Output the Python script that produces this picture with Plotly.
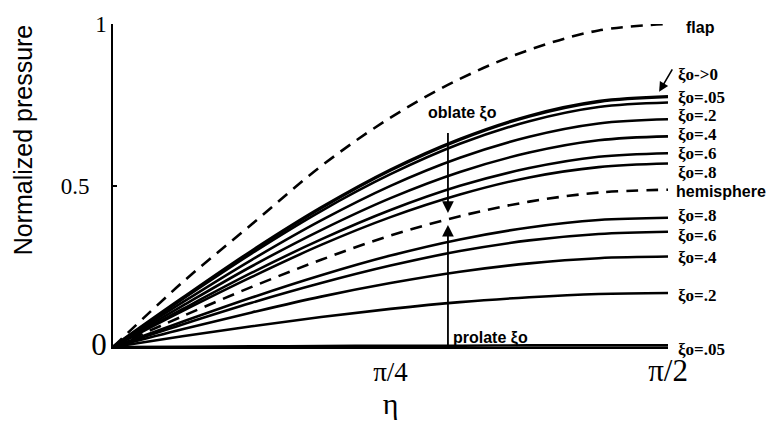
import numpy as np
import plotly.graph_objects as go

# Polar angle eta sampled at multiples of pi/16
eta = [k * np.pi / 16 for k in range(9)]

flap = [0.0, 0.20, 0.38, 0.56, 0.71, 0.83, 0.92, 0.98, 1.0]
hemisphere = [0.0, 0.095, 0.186, 0.27, 0.345, 0.405, 0.45, 0.478, 0.487]

oblate_names = ["ξo->0", "ξo=.05", "ξo=.2", "ξo=.4", "ξo=.6", "ξo=.8"]
oblate_vals = [
    [0.0, 0.151, 0.297, 0.431, 0.548, 0.643, 0.715, 0.760, 0.775],
    [0.0, 0.148, 0.290, 0.421, 0.535, 0.629, 0.699, 0.743, 0.757],
    [0.0, 0.138, 0.270, 0.392, 0.499, 0.586, 0.651, 0.692, 0.705],
    [0.0, 0.127, 0.250, 0.362, 0.461, 0.542, 0.602, 0.640, 0.652],
    [0.0, 0.117, 0.230, 0.333, 0.424, 0.499, 0.554, 0.589, 0.600],
    [0.0, 0.111, 0.217, 0.316, 0.402, 0.472, 0.525, 0.557, 0.568],
]

prolate_names = ["ξo=.8", "ξo=.6", "ξo=.4", "ξo=.2", "ξo=.05"]
prolate_vals = [
    [0.0, 0.078, 0.153, 0.222, 0.283, 0.333, 0.370, 0.393, 0.400],
    [0.0, 0.070, 0.137, 0.198, 0.252, 0.297, 0.330, 0.350, 0.357],
    [0.0, 0.055, 0.107, 0.156, 0.198, 0.233, 0.259, 0.275, 0.280],
    [0.0, 0.033, 0.064, 0.093, 0.118, 0.139, 0.154, 0.164, 0.167],
    [0.0, 0.001, 0.002, 0.003, 0.004, 0.004, 0.005, 0.005, 0.005],
]

# label heights at the right-hand edge (stacked, so they don't collide)
oblate_label_y = [0.845, 0.774, 0.717, 0.658, 0.598, 0.539]
prolate_label_y = [0.408, 0.346, 0.277, 0.159, 0.0]

serif = "Liberation Serif"
sans = "Liberation Sans"
black = "#000000"

fig = go.Figure()

def add_line(y, width=2.6, dash=None):
    fig.add_trace(go.Scatter(
        x=eta, y=y, mode="lines", line_shape="spline",
        line=dict(color=black, width=width, dash=dash),
        showlegend=False, hoverinfo="skip", cliponaxis=False,
    ))

add_line(flap, dash="12px,8px")
for i, v in enumerate(oblate_vals):
    add_line(v, width=3.4 if i == 0 else 2.6)
add_line(hemisphere, dash="12px,8px")
for v in prolate_vals:
    add_line(v)

annotations = []

def side_label(text, y, xshift=6, yshift=0, font=None):
    annotations.append(dict(
        x=np.pi / 2, y=y, xref="x", yref="y", text=text, showarrow=False,
        xanchor="left", yanchor="middle", xshift=xshift, yshift=yshift,
        font=font or dict(family=serif, size=17, color=black),
    ))

side_label("<b>flap</b>", 0.99, xshift=16, font=dict(family=sans, size=16, color=black))
side_label("<b>hemisphere</b>", 0.480, xshift=6, font=dict(family=sans, size=16, color=black))
for name, y in zip(oblate_names, oblate_label_y):
    side_label("<b>" + name + "</b>", y, xshift=8)
for name, y in zip(prolate_names, prolate_label_y):
    side_label("<b>" + name + "</b>", y, xshift=8, yshift=-2 if y == 0 else 0)

# pointer from the xi->0 label to its curve
annotations.append(dict(
    x=np.pi / 2 - 0.025, y=0.79, xref="x", yref="y", ax=14, ay=-24,
    showarrow=True, arrowhead=2, arrowsize=1.2, arrowwidth=1.6, arrowcolor=black, text="",
))

eta_arrow = 0.948
annotations.append(dict(
    x=eta_arrow, y=0.415, xref="x", yref="y", axref="x", ayref="y",
    ax=eta_arrow, ay=0.667, text="", showarrow=True,
    arrowhead=2, arrowsize=1.3, arrowwidth=1.8, arrowcolor=black,
))
annotations.append(dict(
    x=eta_arrow, y=0.378, xref="x", yref="y", axref="x", ayref="y",
    ax=eta_arrow, ay=0.0, text="", showarrow=True,
    arrowhead=2, arrowsize=1.3, arrowwidth=1.8, arrowcolor=black,
))
annotations.append(dict(
    x=eta_arrow + 0.04, y=0.723, xref="x", yref="y", text="<b>oblate ξo</b>",
    showarrow=False, xanchor="center", yanchor="middle",
    font=dict(family=sans, size=16, color=black),
))
annotations.append(dict(
    x=eta_arrow + 0.01, y=0.028, xref="x", yref="y", text="<b>prolate ξo</b>",
    showarrow=False, xanchor="left", yanchor="middle",
    font=dict(family=sans, size=16, color=black),
))

# vertical axis title, set above the middle of the axis
annotations.append(dict(
    x=-0.162, y=0.64, xref="paper", yref="paper", text="Normalized pressure",
    textangle=-90, showarrow=False, xanchor="center", yanchor="middle",
    font=dict(family=sans, size=25, color=black),
))

fig.update_layout(
    width=776, height=425,
    margin=dict(l=113, r=108, t=20, b=69),
    paper_bgcolor="white", plot_bgcolor="white",
    annotations=annotations,
    xaxis=dict(
        range=[0, np.pi / 2], showgrid=False, zeroline=False,
        showline=True, linecolor=black, linewidth=2,
        tickmode="array", tickvals=[np.pi / 4, np.pi / 2],
        ticktext=["<span style='font-size:27px'>π/4</span>",
                  "<span style='font-size:31px'>π/2</span>"],
        ticks="", tickfont=dict(family=serif, size=27, color=black),
        title=dict(text="η", font=dict(family=serif, size=30, color=black), standoff=4),
    ),
    yaxis=dict(
        range=[0, 1], showgrid=False, zeroline=False,
        showline=True, linecolor=black, linewidth=1.5,
        tickmode="array", tickvals=[0, 0.5, 1],
        ticktext=["<span style='font-size:31px'>0</span>", "0.5&nbsp;&nbsp;&nbsp;", "1"],
        ticks="inside", ticklen=4, tickwidth=1.5, tickcolor=black,
        tickfont=dict(family=serif, size=23, color=black),
    ),
)

fig.write_html("out.html")
